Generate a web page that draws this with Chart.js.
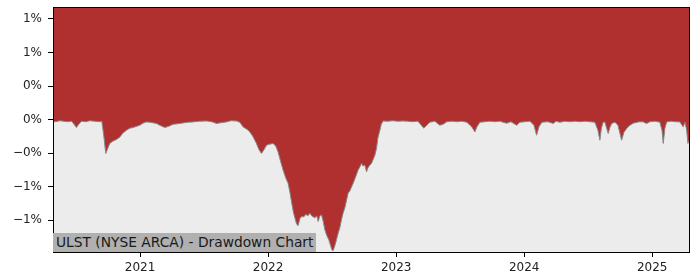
<!DOCTYPE html>
<html>
<head>
<meta charset="utf-8">
<script src="https://cdn.jsdelivr.net/npm/chart.js@4.4.1/dist/chart.umd.min.js"></script>
<style>
  html, body { margin: 0; padding: 0; background: #fff; }
  #wrap { position: relative; width: 700px; height: 280px; }
  #label {
    position: absolute; left: 53px; top: 233px; height: 19px;
    background: #b0b0b0; color: #1a1a1a;
    font: 13.8px "DejaVu Sans", sans-serif; line-height: 19px;
    padding: 0 3px; white-space: nowrap;
  }
</style>
</head>
<body>
<div id="wrap">
  <canvas id="chart" width="700" height="280"></canvas>
  <div id="label">ULST (NYSE ARCA) - Drawdown Chart</div>
</div>
<script>
"use strict";

// dates as decimal years, drawdown in percent
const dates = [
  2020.320, 2020.341, 2020.373, 2020.404, 2020.435, 2020.466, 2020.503, 2020.521, 2020.542, 2020.576,
  2020.607, 2020.646, 2020.685, 2020.701, 2020.716, 2020.732, 2020.748, 2020.763, 2020.787, 2020.816,
  2020.841, 2020.865, 2020.894, 2020.920, 2020.945, 2020.974, 2020.998, 2021.021, 2021.050, 2021.076,
  2021.099, 2021.128, 2021.154, 2021.193, 2021.224, 2021.258, 2021.295, 2021.336, 2021.373, 2021.414,
  2021.466, 2021.519, 2021.560, 2021.597, 2021.630, 2021.675, 2021.709, 2021.753, 2021.779, 2021.805,
  2021.834, 2021.857, 2021.880, 2021.909, 2021.927, 2021.948, 2021.966, 2021.988, 2022.013, 2022.039,
  2022.060, 2022.078, 2022.099, 2022.117, 2022.138, 2022.156, 2022.170, 2022.183, 2022.197, 2022.209,
  2022.222, 2022.234, 2022.248, 2022.261, 2022.279, 2022.295, 2022.310, 2022.326, 2022.341, 2022.365,
  2022.380, 2022.391, 2022.404, 2022.417, 2022.431, 2022.443, 2022.459, 2022.474, 2022.486, 2022.498,
  2022.508, 2022.521, 2022.534, 2022.548, 2022.560, 2022.573, 2022.584, 2022.599, 2022.615, 2022.625,
  2022.638, 2022.664, 2022.677, 2022.703, 2022.716, 2022.730, 2022.740, 2022.755, 2022.769, 2022.779,
  2022.795, 2022.808, 2022.818, 2022.834, 2022.847, 2022.857, 2022.873, 2022.884, 2022.898, 2022.935,
  2022.974, 2023.013, 2023.052, 2023.091, 2023.130, 2023.170, 2023.216, 2023.263, 2023.302, 2023.341,
  2023.367, 2023.396, 2023.435, 2023.474, 2023.513, 2023.552, 2023.591, 2023.615, 2023.630, 2023.654,
  2023.693, 2023.732, 2023.771, 2023.810, 2023.863, 2023.896, 2023.941, 2023.966, 2024.005, 2024.045,
  2024.076, 2024.097, 2024.115, 2024.138, 2024.185, 2024.227, 2024.248, 2024.279, 2024.318, 2024.357,
  2024.396, 2024.435, 2024.474, 2024.513, 2024.552, 2024.576, 2024.591, 2024.603, 2024.617, 2024.630,
  2024.644, 2024.656, 2024.670, 2024.683, 2024.709, 2024.732, 2024.761, 2024.779, 2024.800, 2024.826,
  2024.852, 2024.891, 2024.927, 2024.956, 2024.982, 2025.021, 2025.060, 2025.076, 2025.086, 2025.099,
  2025.113, 2025.146, 2025.185, 2025.216, 2025.242, 2025.256, 2025.269, 2025.279, 2025.291
];

const drawdown = [
  -0.020, -0.026, -0.014, -0.020, -0.026, -0.020, -0.095, -0.056, -0.020, -0.026,
  -0.014, -0.020, -0.026, -0.020, -0.186, -0.404, -0.341, -0.285, -0.258, -0.237,
  -0.210, -0.163, -0.127, -0.103, -0.095, -0.080, -0.068, -0.044, -0.028, -0.032,
  -0.038, -0.047, -0.068, -0.095, -0.080, -0.056, -0.050, -0.040, -0.032, -0.028,
  -0.020, -0.017, -0.026, -0.047, -0.038, -0.028, -0.014, -0.017, -0.032, -0.088,
  -0.115, -0.147, -0.198, -0.285, -0.353, -0.404, -0.364, -0.305, -0.293, -0.285,
  -0.317, -0.388, -0.507, -0.602, -0.697, -0.760, -0.863, -0.982, -1.101, -1.172,
  -1.243, -1.266, -1.183, -1.156, -1.160, -1.130, -1.148, -1.118, -1.148, -1.172,
  -1.148, -1.215, -1.148, -1.136, -1.219, -1.314, -1.385, -1.433, -1.492, -1.552,
  -1.563, -1.504, -1.433, -1.350, -1.291, -1.195, -1.124, -1.053, -0.946, -0.878,
  -0.851, -0.760, -0.709, -0.602, -0.566, -0.522, -0.554, -0.542, -0.622, -0.578,
  -0.542, -0.522, -0.483, -0.424, -0.341, -0.222, -0.127, -0.056, -0.017, -0.020,
  -0.014, -0.020, -0.017, -0.020, -0.026, -0.020, -0.103, -0.032, -0.020, -0.068,
  -0.056, -0.026, -0.020, -0.026, -0.020, -0.032, -0.088, -0.147, -0.088, -0.032,
  -0.026, -0.020, -0.026, -0.020, -0.044, -0.026, -0.068, -0.032, -0.026, -0.020,
  -0.068, -0.186, -0.088, -0.032, -0.026, -0.047, -0.020, -0.032, -0.020, -0.026,
  -0.020, -0.026, -0.020, -0.026, -0.032, -0.127, -0.246, -0.103, -0.032, -0.028,
  -0.103, -0.166, -0.091, -0.047, -0.032, -0.068, -0.246, -0.151, -0.107, -0.068,
  -0.044, -0.028, -0.026, -0.047, -0.026, -0.020, -0.032, -0.127, -0.285, -0.103,
  -0.028, -0.020, -0.026, -0.028, -0.088, -0.032, -0.127, -0.285, -0.240
];

const xTicks = [2021, 2022, 2023, 2024, 2025];
const xLabels = ["2021", "2022", "2023", "2024", "2025"];
const yTicks = [-1.2, -0.8, -0.4, 0, 0.4, 0.8, 1.2];
const yLabels = ["\u22121%", "\u22121%", "\u22120%", "0%", "0%", "1%", "1%"];

const points = dates.map((d, i) => ({ x: d, y: drawdown[i] }));

const frame = {
  id: "frame",
  beforeDraw(chart) {
    const { ctx, chartArea: a } = chart;
    ctx.save();
    ctx.fillStyle = "#ececec";
    ctx.fillRect(a.left, a.top, a.right - a.left, a.bottom - a.top);
    ctx.restore();
  },
  afterDraw(chart) {
    const { ctx, chartArea: a } = chart;
    ctx.save();
    ctx.strokeStyle = "#000";
    ctx.lineWidth = 1;
    ctx.strokeRect(a.left + 0.5, a.top + 0.5, a.right - a.left - 1, a.bottom - a.top);
    ctx.restore();
  }
};

const tickFont = { family: "DejaVu Sans", size: 12 };

new Chart(document.getElementById("chart"), {
  type: "line",
  data: {
    datasets: [{
      data: points,
      borderColor: "#888888",
      borderWidth: 1,
      backgroundColor: "#b03030",
      fill: "end",
      pointRadius: 0,
      tension: 0
    }]
  },
  options: {
    responsive: false,
    animation: false,
    layout: { padding: { top: 7, right: 10, left: 0, bottom: 0 } },
    plugins: { legend: { display: false }, tooltip: { enabled: false } },
    scales: {
      x: {
        type: "linear",
        min: 2020.320,
        max: 2025.295,
        afterBuildTicks: s => { s.ticks = xTicks.map(v => ({ value: v })); },
        afterFit: s => { s.height = 28; s.paddingLeft = 0; s.paddingRight = 0; },
        grid: { drawOnChartArea: false, drawTicks: true, tickLength: 5, color: "#000" },
        border: { display: false },
        ticks: {
          color: "#222",
          font: tickFont,
          padding: 4,
          maxRotation: 0,
          callback: v => xLabels[xTicks.indexOf(v)]
        }
      },
      y: {
        min: -1.579,
        max: 1.342,
        afterBuildTicks: s => { s.ticks = yTicks.map(v => ({ value: v })); },
        afterFit: s => { s.width = 53; s.paddingTop = 0; s.paddingBottom = 0; },
        grid: { drawOnChartArea: false, drawTicks: true, tickLength: 5, color: "#000" },
        border: { display: false },
        ticks: {
          color: "#222",
          font: tickFont,
          padding: 6,
          callback: v => yLabels[yTicks.indexOf(v)]
        }
      }
    }
  },
  plugins: [frame]
});
</script>
</body>
</html>
